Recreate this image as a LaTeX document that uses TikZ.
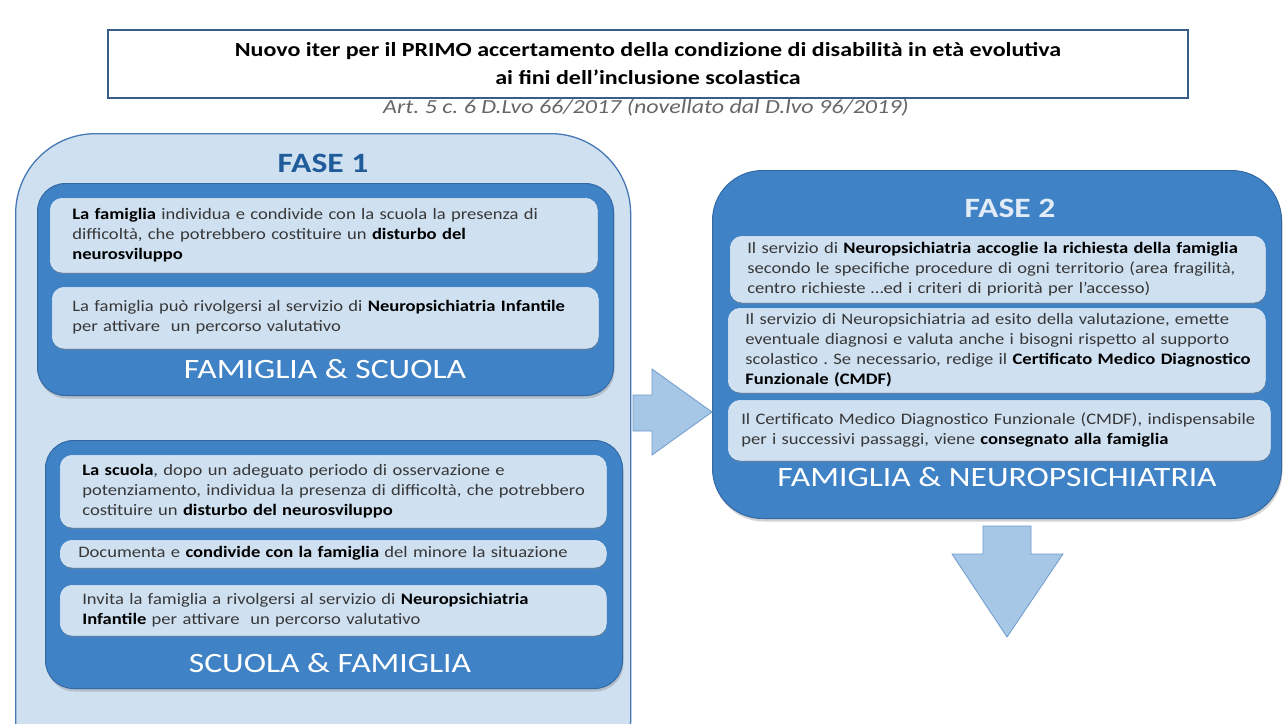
\documentclass[tikz,border=0pt]{standalone}
\usepackage{fontspec}
\setmainfont{Carlito}[FakeStretch=1.2]
\newfontfamily\corpo{Carlito}[FakeStretch=1.16]
\frenchspacing
\usetikzlibrary{shadows}
\definecolor{paleblue}{RGB}{207,224,241}
\definecolor{midblue}{RGB}{63,131,198}
\definecolor{edgeblue}{RGB}{70,120,180}
\definecolor{deepblue}{RGB}{50,105,165}
\definecolor{titleblue}{RGB}{31,92,153}
\definecolor{framblue}{RGB}{56,93,138}
\definecolor{arrowblue}{RGB}{167,199,231}
\definecolor{arrowedge}{RGB}{110,155,205}
\definecolor{bodytext}{RGB}{55,55,55}
\newcommand{\lignes}[1]{\begin{tabular}{@{}l@{}}#1\end{tabular}}
\newcommand{\forte}[1]{\textbf{\color{black}#1}}
\tikzstyle{titlebox}=[draw=framblue,line width=2.5pt,minimum width=1080pt,minimum height=68pt,inner sep=0pt,align=center,font=\fontsize{20}{28}\selectfont\bfseries]
\tikzstyle{subtitle}=[text=black!60,font=\fontsize{20}{24}\selectfont\itshape]
\tikzstyle{outerbox}=[anchor=north west,fill=paleblue,draw=edgeblue,line width=1.3pt,rounded corners=80pt]
\tikzstyle{groupbox}=[anchor=north west,fill=midblue,draw=deepblue,line width=1pt,rounded corners=28pt,drop shadow={shadow xshift=1pt,shadow yshift=-3pt,opacity=0.35}]
\tikzstyle{subbox}=[anchor=north west,fill=paleblue,draw=paleblue!70!white,line width=0.6pt,rounded corners=12pt,inner ysep=0pt,align=left,text=bodytext,font=\corpo\fontsize{16}{20}\selectfont,drop shadow={shadow xshift=0.5pt,shadow yshift=-2pt,opacity=0.4}]
\tikzstyle{grouplabel}=[text=white,font=\fontsize{28}{30}\selectfont]
\tikzstyle{blockarrow}=[fill=arrowblue,draw=arrowedge,line width=0.8pt]

\begin{document}
\begin{tikzpicture}[x=1pt,y=-1pt]
    \useasboundingbox (0,0) rectangle (1285,723);

    % Title and reference to the law
    \node[titlebox] (title) at (648,64) {Nuovo iter per il PRIMO accertamento della condizione di disabilità in età evolutiva\\ai fini dell’inclusione scolastica};
    \node[subtitle] (norma) at (646,108) {Art. 5 c. 6 D.Lvo 66/2017 (novellato dal D.lvo 96/2019)};

    % Fase 1
    \node[outerbox,minimum width=615pt,minimum height=667pt] (fase1) at (15,133) {};
    \node[text=titleblue,font=\fontsize{28}{30}\selectfont\bfseries] (fase1 lbl) at (323,163) {FASE 1};

    \node[groupbox,minimum width=576pt,minimum height=212pt] (famscu) at (37,183) {};
    \node[subbox,minimum width=547pt,minimum height=74pt,text width=503pt,inner xsep=22pt] (famscu a) at (50,198)
        {\lignes{\forte{La famiglia} individua e condivide con la scuola la presenza di\\difficoltà, che potrebbero costituire un \forte{disturbo del}\\\forte{neurosviluppo}}};
    \node[subbox,minimum width=546pt,minimum height=61pt,text width=506pt,inner xsep=20pt] (famscu b) at (52,287)
        {\lignes{La famiglia può rivolgersi al servizio di \forte{Neuropsichiatria Infantile}\\per attivare\ \ un percorso valutativo}};

    \node[groupbox,minimum width=577pt,minimum height=248pt] (scufam) at (45,440) {};
    \node[subbox,minimum width=546pt,minimum height=72pt,text width=502pt,inner xsep=22pt] (scufam a) at (60,455)
        {\lignes{\forte{La scuola}, dopo un adeguato periodo di osservazione e\\potenziamento, individua la presenza di difficoltà, che potrebbero\\costituire un \forte{disturbo del neurosviluppo}}};
    \node[subbox,minimum width=546pt,minimum height=27pt,text width=510pt,inner xsep=18pt] (scufam b) at (60,540)
        {\lignes{Documenta e \forte{condivide con la famiglia} del minore la situazione}};
    \node[subbox,minimum width=546pt,minimum height=50pt,text width=502pt,inner xsep=22pt] (scufam c) at (60,585)
        {\lignes{Invita la famiglia a rivolgersi al servizio di \forte{Neuropsichiatria}\\\forte{Infantile} per attivare\ \ un percorso valutativo}};

    % Fase 2
    \node[groupbox,rounded corners=50pt,minimum width=569pt,minimum height=348pt] (fase2) at (712,170) {};
    \node[text=paleblue!60!white,font=\fontsize{28}{30}\selectfont\bfseries] (fase2 lbl) at (1010,208) {FASE 2};
    \node[subbox,minimum width=535pt,minimum height=66pt,text width=501pt,inner xsep=17pt] (neuro a) at (730,236)
        {\lignes{Il servizio di \forte{Neuropsichiatria accoglie la richiesta della famiglia}\\secondo le specifiche procedure di ogni territorio (area fragilità,\\centro richieste …ed i criteri di priorità per l’accesso)}};
    \node[subbox,minimum width=537pt,minimum height=84pt,text width=503pt,inner xsep=17pt] (neuro b) at (728,308)
        {\lignes{Il servizio di Neuropsichiatria ad esito della valutazione, emette\\eventuale diagnosi e valuta anche i bisogni rispetto al supporto\\scolastico . Se necessario, redige il \forte{Certificato Medico Diagnostico}\\\forte{Funzionale (CMDF)}}};
    \node[subbox,minimum width=542pt,minimum height=60pt,text width=516pt,inner xsep=13pt] (neuro c) at (728,400)
        {\lignes{Il Certificato Medico Diagnostico Funzionale (CMDF), indispensabile\\per i successivi passaggi, viene \forte{consegnato alla famiglia}}};

    % White labels of the three groups
    \foreach \pos/\name/\txt in {{(325,369)/famscu lbl/FAMIGLIA \& SCUOLA},{(330,663)/scufam lbl/SCUOLA \& FAMIGLIA},{(997,477)/neuro lbl/FAMIGLIA \& NEUROPSICHIATRIA}}
        \node[grouplabel] (\name) at \pos {\txt};

    % Block arrows
    \draw[blockarrow] (633,395) -- (652,395) -- (652,369) -- (712,412) -- (652,455) -- (652,431) -- (633,431) -- cycle;
    \draw[blockarrow] (983,526) -- (1031,526) -- (1031,554) -- (1063,554) -- (1007,637) -- (952,554) -- (983,554) -- cycle;
\end{tikzpicture}
\end{document}
